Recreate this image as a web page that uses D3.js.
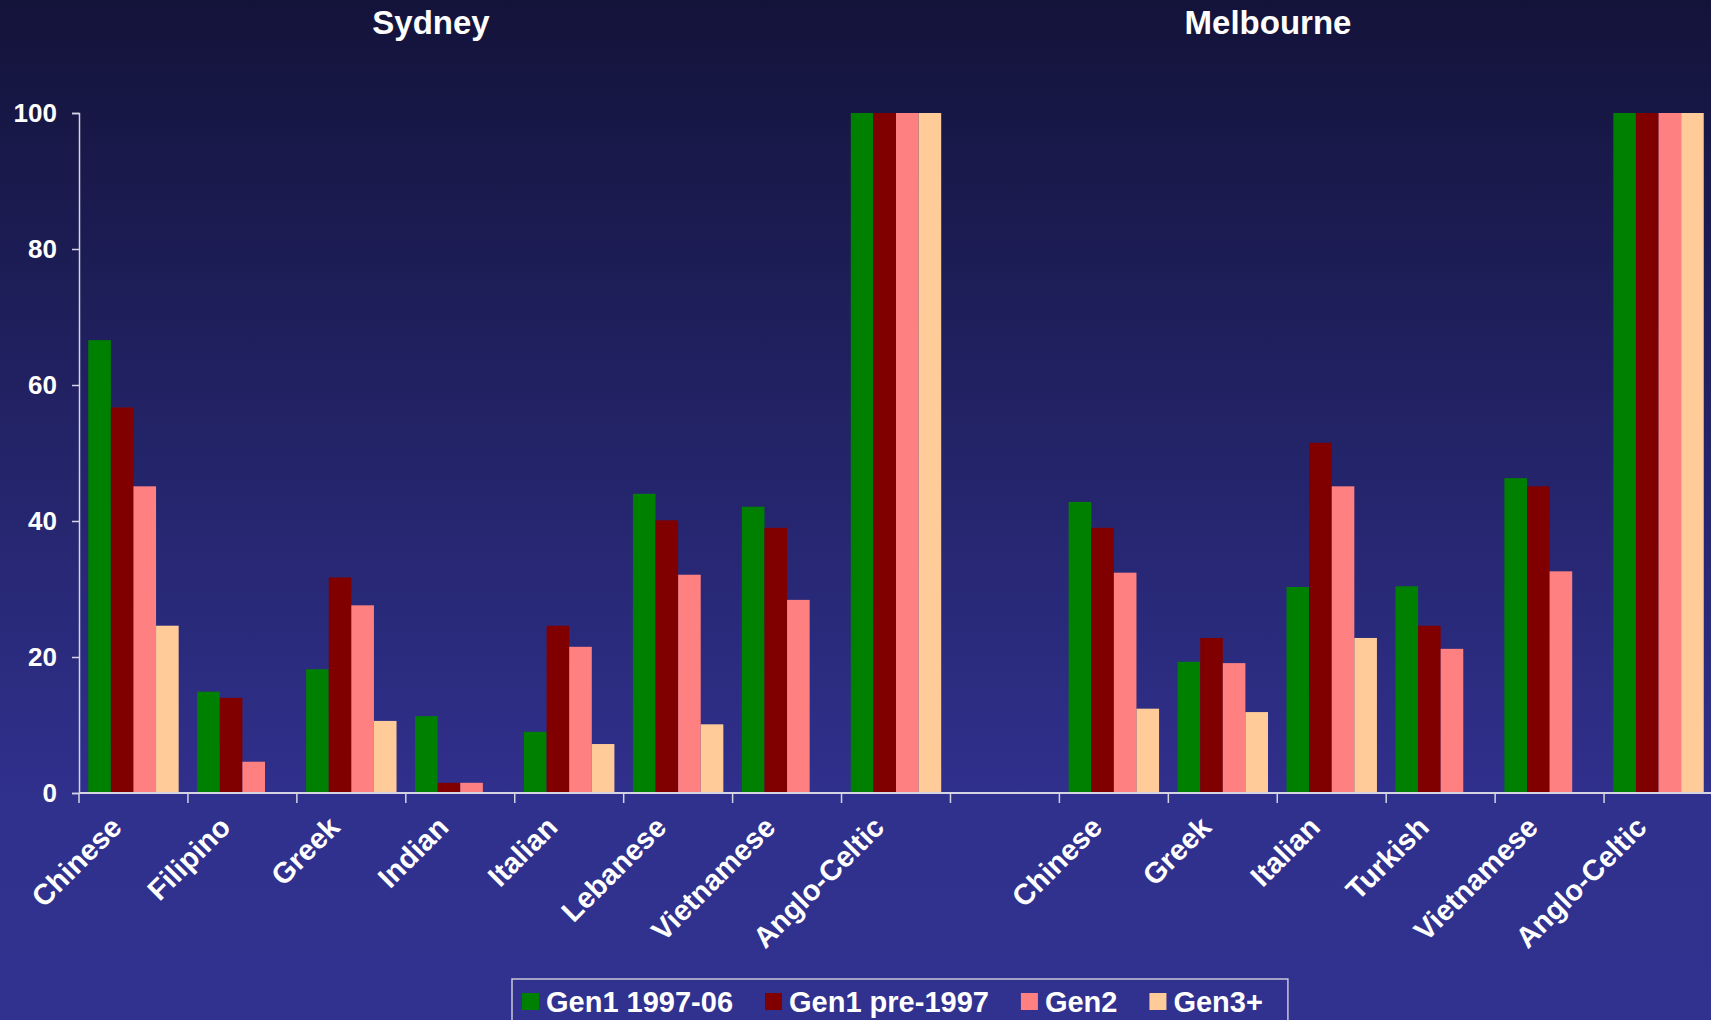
<!DOCTYPE html>
<html>
<head>
<meta charset="utf-8">
<script src="https://cdn.jsdelivr.net/npm/d3@7"></script>
<style>
  html, body { margin: 0; padding: 0; background: #31318f; }
  svg { display: block; }
  text { font-family: "Liberation Sans", Arial, sans-serif; font-weight: bold; fill: #ffffff; }
</style>
</head>
<body>
<svg id="chart" width="1711" height="1020"></svg>
<script>
// Category groups for each city
const sydneyGroups = ["Chinese", "Filipino", "Greek", "Indian", "Italian", "Lebanese", "Vietnamese", "Anglo-Celtic"];
const melbourneGroups = ["Chinese", "Greek", "Italian", "Turkish", "Vietnamese", "Anglo-Celtic"];
const cityNames = ["Sydney", "Melbourne"];

// Series (generations)
const seriesNames = ["Gen1 1997-06", "Gen1 pre-1997", "Gen2", "Gen3+"];
const seriesColors = ["#008000", "#800000", "#ff8080", "#ffcc99"];

// Sydney values by series (null = no bar)
const sydneyGen1Recent = [66.6, 14.9, 18.2, 11.3, 9.0, 44.0, 42.1, 100];
const sydneyGen1Earlier = [56.7, 14.0, 31.7, 1.5, 24.6, 40.1, 39.0, 100];
const sydneyGen2 = [45.1, 4.6, 27.6, 1.5, 21.5, 32.1, 28.4, 100];
const sydneyGen3 = [24.6, null, 10.6, null, 7.2, 10.1, null, 100];

// Melbourne values by series
const melbourneGen1Recent = [42.8, 19.3, 30.3, 30.4, 46.3, 100];
const melbourneGen1Earlier = [39.0, 22.8, 51.5, 24.6, 45.1, 100];
const melbourneGen2 = [32.4, 19.1, 45.1, 21.2, 32.6, 100];
const melbourneGen3 = [12.4, 11.9, 22.8, null, null, 100];

const yTicks = [0, 20, 40, 60, 80, 100];

// ---- build one row per x slot (Sydney, a blank gap, Melbourne) ----
const sydneySeries = [sydneyGen1Recent, sydneyGen1Earlier, sydneyGen2, sydneyGen3];
const melbourneSeries = [melbourneGen1Recent, melbourneGen1Earlier, melbourneGen2, melbourneGen3];
const slots = [];
sydneyGroups.forEach((g, i) => slots.push({ key: "s" + i, label: g, values: sydneySeries.map(s => s[i]) }));
slots.push({ key: "gap", label: "", values: [null, null, null, null] });
melbourneGroups.forEach((g, i) => slots.push({ key: "m" + i, label: g, values: melbourneSeries.map(s => s[i]) }));

const W = 1711, H = 1020;
const margin = { left: 79, right: -2, top: 113, bottom: 227 };
const svg = d3.select("#chart");

// background gradient
const defs = svg.append("defs");
const grad = defs.append("linearGradient").attr("id", "bg").attr("x1", 0).attr("y1", 0).attr("x2", 0).attr("y2", 1);
grad.append("stop").attr("offset", "0%").attr("stop-color", "#13133a");
grad.append("stop").attr("offset", "78%").attr("stop-color", "#30308d");
grad.append("stop").attr("offset", "100%").attr("stop-color", "#31318f");
svg.append("rect").attr("width", W).attr("height", H).attr("fill", "url(#bg)");

const x0 = d3.scaleBand()
  .domain(slots.map(d => d.key))
  .range([margin.left, W - margin.right])
  .paddingInner(0).paddingOuter(0);
const x1 = d3.scaleBand()
  .domain(seriesNames)
  .range([0, x0.bandwidth()])
  .paddingInner(0).paddingOuter(0.41);
const y = d3.scaleLinear().domain([0, 100]).range([H - margin.bottom, margin.top]);

// bars
const groups = svg.append("g").selectAll("g.slot")
  .data(slots).join("g")
  .attr("class", "slot")
  .attr("transform", d => `translate(${x0(d.key)},0)`);
groups.selectAll("rect")
  .data(d => d.values.map((v, i) => ({ v, s: seriesNames[i], c: seriesColors[i] })).filter(e => e.v !== null))
  .join("rect")
  .attr("x", e => x1(e.s))
  .attr("width", x1.bandwidth())
  .attr("y", e => y(e.v))
  .attr("height", e => y(0) - y(e.v))
  .attr("fill", e => e.c);

const axisColor = "#d4d4e4";

// y axis
const yAxis = svg.append("g")
  .attr("transform", `translate(${margin.left},0)`)
  .call(d3.axisLeft(y).tickValues(yTicks).tickSize(7).tickPadding(15));
yAxis.select(".domain").attr("stroke", axisColor).attr("stroke-width", 1.5);
yAxis.selectAll(".tick line").attr("stroke", axisColor).attr("stroke-width", 1.5);
yAxis.selectAll(".tick text")
  .attr("fill", "#ffffff")
  .style("font-size", "26px")
  .style("font-family", "'Liberation Sans', Arial, sans-serif")
  .style("font-weight", "bold");

// x axis line with boundary ticks
const xg = svg.append("g");
xg.append("line")
  .attr("x1", margin.left).attr("x2", W)
  .attr("y1", y(0)).attr("y2", y(0))
  .attr("stroke", axisColor).attr("stroke-width", 2);
const boundaries = slots.map(d => x0(d.key));
xg.selectAll("line.tick")
  .data(boundaries).join("line")
  .attr("class", "tick")
  .attr("x1", d => d).attr("x2", d => d)
  .attr("y1", y(0)).attr("y2", y(0) + 10)
  .attr("stroke", axisColor).attr("stroke-width", 1.5);

// rotated category labels
xg.selectAll("text.cat")
  .data(slots.filter(d => d.label)).join("text")
  .attr("class", "cat")
  .attr("text-anchor", "end")
  .attr("transform", d => `translate(${x0(d.key) + x0.bandwidth() / 2 - 10},${y(0) + 36}) rotate(-45)`)
  .style("font-size", "29px")
  .text(d => d.label);

// city titles
const titleX = [431, 1268];
svg.selectAll("text.city")
  .data(cityNames).join("text")
  .attr("class", "city")
  .attr("x", (d, i) => titleX[i])
  .attr("y", 34)
  .attr("text-anchor", "middle")
  .style("font-size", "33px")
  .text(d => d);

// legend
const legend = svg.append("g").attr("transform", "translate(512,979)");
const legendBox = legend.append("rect")
  .attr("x", 0).attr("y", 0).attr("height", 70)
  .attr("fill", "none").attr("stroke", "#c8c8d8").attr("stroke-width", 1.5);
let lx = 10;
seriesNames.forEach((name, i) => {
  legend.append("rect")
    .attr("x", lx).attr("y", 14).attr("width", 17).attr("height", 17)
    .attr("fill", seriesColors[i]);
  const t = legend.append("text")
    .attr("x", lx + 24).attr("y", 33)
    .style("font-size", "29px")
    .text(name);
  lx += 24 + t.node().getComputedTextLength() + 32;
});
legendBox.attr("width", lx - 32 + 25);
</script>
</body>
</html>
